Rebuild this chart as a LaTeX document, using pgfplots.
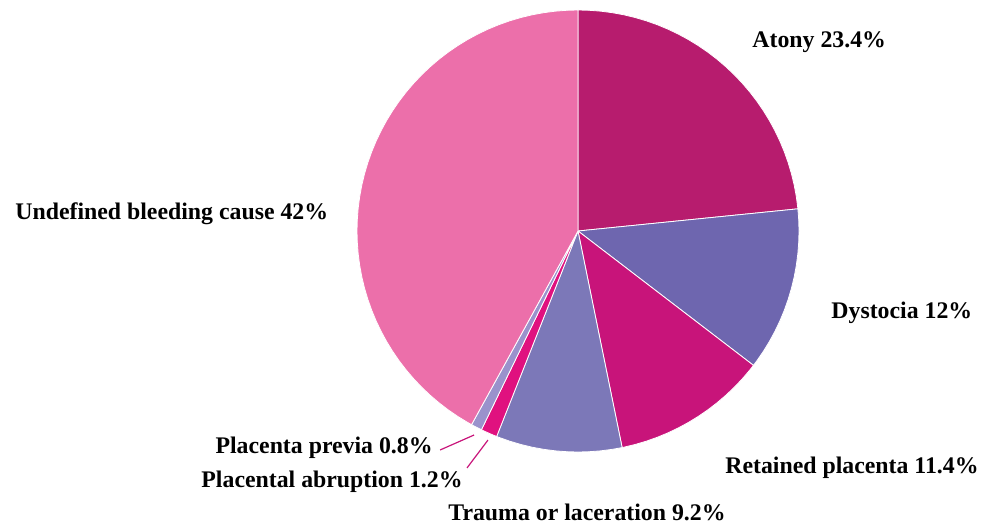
\documentclass[border=0pt]{standalone}
\usepackage{fontspec}
\setmainfont{Liberation Serif}
\usepackage{pgfplots}
\pgfplotsset{compat=1.18}
\usepgfplotslibrary{polar}
\definecolor{cAtony}{HTML}{B71C6E}
\definecolor{cDyst}{HTML}{6E66AF}
\definecolor{cRet}{HTML}{C8147A}
\definecolor{cTrauma}{HTML}{7C78B8}
\definecolor{cAbr}{HTML}{E0117F}
\definecolor{cPrev}{HTML}{9A92CC}
\definecolor{cUnd}{HTML}{EC6FAA}
\definecolor{cLead}{HTML}{C8147A}
\begin{document}
\begin{tikzpicture}[x=1pt,y=1pt]
\useasboundingbox (0,0) rectangle (494,262.5);
\begin{polaraxis}[at={(289pt,147pt)}, anchor=center,
  width=221pt, height=221pt, scale only axis, hide axis, clip=false,
  xmin=0, xmax=360, ymin=0, ymax=1]
% Atony 23.4%
\addplot[fill=cAtony, draw=white, line width=0.4pt] coordinates {(0,0) (90,1) (87,1) (84,1) (81,1) (78,1) (75,1) (72,1) (69,1) (66,1) (63,1) (60,1) (57,1) (54,1) (51,1) (48,1) (45,1) (42,1) (39,1) (36,1) (33,1) (30,1) (27,1) (24,1) (21,1) (18,1) (15,1) (12,1) (9,1) (6,1) (5.76,1) (0,0)};
% Dystocia 12%
\addplot[fill=cDyst, draw=white, line width=0.4pt] coordinates {(0,0) (5.76,1) (3,1) (0,1) (-3,1) (-6,1) (-9,1) (-12,1) (-15,1) (-18,1) (-21,1) (-24,1) (-27,1) (-30,1) (-33,1) (-36,1) (-37.44,1) (0,0)};
% Retained placenta 11.4%
\addplot[fill=cRet, draw=white, line width=0.4pt] coordinates {(0,0) (-37.44,1) (-39,1) (-42,1) (-45,1) (-48,1) (-51,1) (-54,1) (-57,1) (-60,1) (-63,1) (-66,1) (-69,1) (-72,1) (-75,1) (-78,1) (-78.48,1) (0,0)};
% Trauma 9.2%
\addplot[fill=cTrauma, draw=white, line width=0.4pt] coordinates {(0,0) (-78.48,1) (-81,1) (-84,1) (-87,1) (-90,1) (-93,1) (-96,1) (-99,1) (-102,1) (-105,1) (-108,1) (-111,1) (-111.6,1) (0,0)};
% Placental abruption 1.2%
\addplot[fill=cAbr, draw=white, line width=0.4pt] coordinates {(0,0) (-111.6,1) (-113,1) (-114.5,1) (-115.92,1) (0,0)};
% Placenta previa 0.8%
\addplot[fill=cPrev, draw=white, line width=0.4pt] coordinates {(0,0) (-115.92,1) (-117.4,1) (-118.8,1) (0,0)};
% Undefined 42%
\addplot[fill=cUnd, draw=white, line width=0.4pt] coordinates {(0,0) (-118.8,1) (-120,1) (-123,1) (-126,1) (-129,1) (-132,1) (-135,1) (-138,1) (-141,1) (-144,1) (-147,1) (-150,1) (-153,1) (-156,1) (-159,1) (-162,1) (-165,1) (-168,1) (-171,1) (-174,1) (-177,1) (-180,1) (-183,1) (-186,1) (-189,1) (-192,1) (-195,1) (-198,1) (-201,1) (-204,1) (-207,1) (-210,1) (-213,1) (-216,1) (-219,1) (-222,1) (-225,1) (-228,1) (-231,1) (-234,1) (-237,1) (-240,1) (-243,1) (-246,1) (-249,1) (-252,1) (-255,1) (-258,1) (-261,1) (-264,1) (-267,1) (-270,1) (0,0)};
% leader lines
\addplot[cLead, line width=0.6pt] coordinates {(-122.2,1.171) (-117.0,1.036)};
\addplot[cLead, line width=0.6pt] coordinates {(-115.1,1.184) (-113.3,1.030)};
\end{polaraxis}
\begin{scope}[every node/.style={font=\fontsize{11.9pt}{14pt}\selectfont\bfseries, inner sep=0pt}]
\node[anchor=base west] at (376,238.5) {Atony 23.4\%};
\node[anchor=base west] at (415.5,103.5) {Dystocia 12\%};
\node[anchor=base west] at (362.5,26) {Retained placenta 11.4\%};
\node[anchor=base west] at (224,2.5) {Trauma or laceration 9.2\%};
\node[anchor=base east] at (231.5,19) {Placental abruption 1.2\%};
\node[anchor=base east] at (216.5,36) {Placenta previa 0.8\%};
\node[anchor=base west] at (7.5,152.5) {Undefined bleeding cause 42\%};
\end{scope}
\end{tikzpicture}
\end{document}
